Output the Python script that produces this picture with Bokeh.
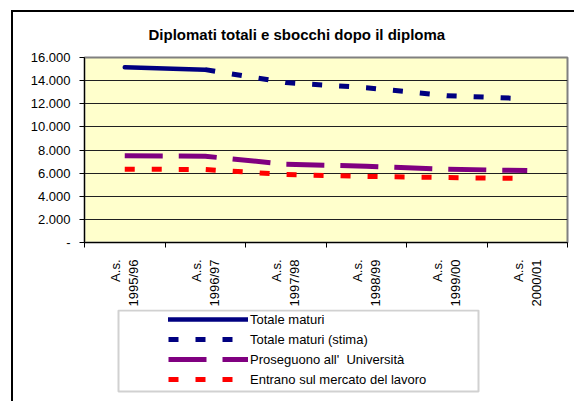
import math
import numpy as np
from bokeh.plotting import figure
from bokeh.layouts import column
from bokeh.models import (FixedTicker, Legend, LegendItem, Range1d, BoxAnnotation)
from bokeh.embed import file_html
from bokeh.resources import INLINE

# ---- data ----
title_text = "Diplomati totali e sbocchi dopo il diploma"
year_prefix = "A.s."
years = ["1995/96", "1996/97", "1997/98", "1998/99", "1999/00", "2000/01"]

totale_maturi = [15150, 14950, None, None, None, None]
totale_maturi_stima = [None, 14950, 13830, 13390, 12700, 12430]
proseguono_universita = [7510, 7460, 6770, 6600, 6340, 6220]
entrano_mercato_lavoro = [6340, 6310, 5880, 5710, 5620, 5530]

series_names = ["Totale maturi", "Totale maturi (stima)",
                "Proseguono all'  Università", "Entrano sul mercato del lavoro"]

y_tick_values = [0, 2000, 4000, 6000, 8000, 10000, 12000, 14000, 16000]
y_tick_labels = ["-", "2.000", "4.000", "6.000", "8.000", "10.000", "12.000", "14.000", "16.000"]

FONT = "Liberation Sans"

def arr(v):
    return np.array([np.nan if x is None else x for x in v], dtype=float)

n = len(years)
x_centers = np.arange(n) + 0.5
x_bounds = list(np.arange(n + 1).astype(float))

series = [
    (totale_maturi, dict(line_color="#000080", line_width=4.5, line_cap="round", line_join="round")),
    (totale_maturi_stima, dict(line_color="#000080", line_width=5, line_dash="10 17")),
    (proseguono_universita, dict(line_color="#800080", line_width=5, line_dash="38 16")),
    (entrano_mercato_lavoro, dict(line_color="#FF0000", line_width=5, line_dash="10 17")),
]

# ---------------- main chart ----------------
MAIN_H = 309
p = figure(width=574, height=MAIN_H,
           x_range=Range1d(0, n), y_range=Range1d(0, 16000),
           output_backend="svg", toolbar_location=None,
           min_border_left=84, min_border_right=7,
           min_border_top=57, min_border_bottom=MAIN_H - 243,
           title=title_text)

p.background_fill_color = "#FFFFCC"
p.border_fill_alpha = 0
p.outline_line_color = "#808080"
p.outline_line_width = 2

# outer chart border (left + top) as CSS background lines
p.styles = {
    "background-color": "white",
    "background-image": "linear-gradient(#000,#000), linear-gradient(#000,#000)",
    "background-size": "2px 100%, 100% 2px",
    "background-position": "11px 10px, 11px 10px",
    "background-repeat": "no-repeat",
}

p.title.align = "left"
p.title.offset = 64
p.title.standoff = 29
p.title.text_font = FONT
p.title.text_font_size = "15px"
p.title.text_font_style = "bold"
p.title.text_color = "black"

# y axis
yt = FixedTicker(ticks=y_tick_values)
p.yaxis.ticker = yt
p.yaxis.major_label_overrides = {v: l for v, l in zip(y_tick_values, y_tick_labels)}
p.yaxis.major_label_text_font = FONT
p.yaxis.major_label_text_font_size = "13px"
p.yaxis.major_label_text_color = "black"
p.yaxis.major_tick_out = 5
p.yaxis.major_tick_in = 0
p.yaxis.minor_tick_line_color = None
p.yaxis.major_label_standoff = 9
p.yaxis.axis_line_color = "black"
p.yaxis.major_tick_line_color = "black"

p.ygrid.ticker = yt
p.ygrid.grid_line_color = "#202020"
p.ygrid.grid_line_width = 1
p.xgrid.visible = False

# x axis
xt = FixedTicker(ticks=list(x_centers), minor_ticks=x_bounds)
p.xaxis.ticker = xt
p.xaxis.major_label_overrides = {float(c): f"{year_prefix}\n{y}" for c, y in zip(x_centers, years)}
p.xaxis.major_label_orientation = math.pi / 2
p.xaxis.major_label_text_font = FONT
p.xaxis.major_label_text_font_size = "13px"
p.xaxis.major_label_text_color = "black"
p.xaxis.major_label_text_align = "center"
p.xaxis.major_tick_out = 0
p.xaxis.major_tick_in = 0
p.xaxis.minor_tick_out = 5
p.xaxis.minor_tick_in = 0
p.xaxis.minor_tick_line_color = "black"
p.xaxis.major_label_standoff = 12
p.xaxis.axis_line_color = "black"

for vals, style in series:
    p.line(x_centers, arr(vals), **style)

# ---------------- legend panel ----------------
LEG_H = 401 - MAIN_H
pl = figure(width=574, height=LEG_H,
            x_range=Range1d(0, n), y_range=Range1d(0, 16000),
            output_backend="svg", toolbar_location=None,
            x_axis_location=None, y_axis_location=None,
            min_border_left=84, min_border_right=7,
            min_border_top=0, min_border_bottom=0)
pl.grid.visible = False
pl.background_fill_alpha = 0
pl.border_fill_alpha = 0
pl.outline_line_color = None
pl.styles = {
    "background-color": "white",
    "background-image": "linear-gradient(#000,#000)",
    "background-size": "2px 100%",
    "background-position": "11px 0px",
    "background-repeat": "no-repeat",
}

legend_box = BoxAnnotation(left=118, right=478, top=1, bottom=391 - MAIN_H,
                           left_units="canvas", right_units="canvas",
                           top_units="canvas", bottom_units="canvas",
                           fill_color="white", fill_alpha=1,
                           line_color="#666666", line_width=2)
pl.add_layout(legend_box)

legend_renderers = []
for vals, style in series:
    r = pl.line(x_centers, arr(vals), **style)
    r.visible = False
    legend_renderers.append(r)

legend = Legend(items=[LegendItem(label=nm, renderers=[r]) for nm, r in
                       zip(series_names, legend_renderers)],
                location=(82, 12),
                border_line_alpha=0, background_fill_alpha=0,
                padding=2, spacing=4, margin=0,
                glyph_width=80, glyph_height=16, label_height=16,
                label_standoff=2,
                label_text_font=FONT, label_text_font_size="13px",
                label_text_color="black")
pl.add_layout(legend)

layout = column(p, pl, spacing=0)
open("out.html", "w").write(file_html(layout, INLINE))
